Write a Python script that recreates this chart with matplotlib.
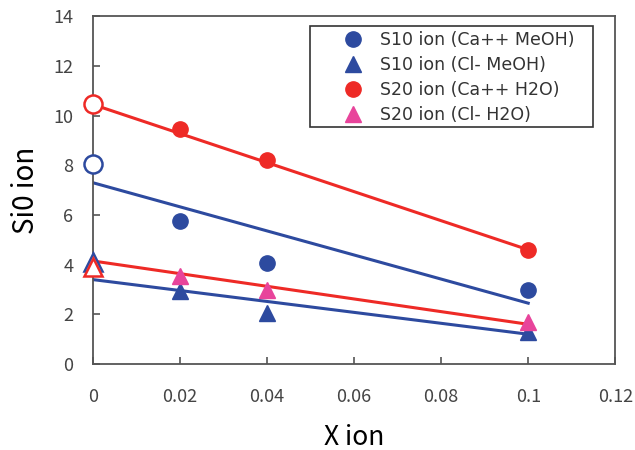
import numpy as np
import matplotlib.pyplot as plt
from matplotlib.patches import Rectangle

plt.rcParams['font.family'] = ['Noto Sans CJK JP', 'DejaVu Sans']

# measured points (x ion, Si0 ion)
x_meas = [0.02, 0.04, 0.1]
s10_ca_meoh = [5.75, 4.06, 3.0]
s10_cl_meoh = [2.95, 2.05, 1.3]
s20_ca_h2o = [9.45, 8.2, 4.6]
s20_cl_h2o = [3.55, 3.0, 1.7]

# values at x = 0 (open symbols)
x0 = [0.0]
s10_ca_meoh_0 = [8.05]
s10_cl_meoh_0 = [4.1]
s20_ca_h2o_0 = [10.45]
s20_cl_h2o_0 = [3.9]

# fit lines, evaluated at both ends
x_fit = [0.0, 0.1]
fit_s10_ca = [7.3, 2.45]
fit_s10_cl = [3.4, 1.2]
fit_s20_ca = [10.45, 4.6]
fit_s20_cl = [4.15, 1.6]

xticks = [0, 0.02, 0.04, 0.06, 0.08, 0.1, 0.12]
xticklabels = ['0', '0.02', '0.04', '0.06', '0.08', '0.1', '0.12']
yticks = [0, 2, 4, 6, 8, 10, 12, 14]

blue = '#2d4a9f'
red = '#ee2a26'
pink = '#e8449b'

fig = plt.figure(figsize=(6.35, 4.5), dpi=100)
ax = fig.add_axes([0.146, 0.191, 0.823, 0.773])

ax.plot(x_fit, fit_s20_ca, color=red, lw=2.2, zorder=2)
ax.plot(x_fit, fit_s10_ca, color=blue, lw=2.2, zorder=2)
ax.plot(x_fit, fit_s20_cl, color=red, lw=2.2, zorder=2)
ax.plot(x_fit, fit_s10_cl, color=blue, lw=2.2, zorder=2)

ax.plot(x_meas, s10_ca_meoh, 'o', color=blue, ms=11, mec=blue, zorder=3,
        label='S10 ion (Ca++ MeOH)')
ax.plot(x_meas, s10_cl_meoh, '^', color=blue, ms=12, mec=blue, zorder=3,
        label='S10 ion (Cl- MeOH)')
ax.plot(x_meas, s20_ca_h2o, 'o', color=red, ms=11, mec=red, zorder=3,
        label='S20 ion (Ca++ H2O)')
ax.plot(x_meas, s20_cl_h2o, '^', color=pink, ms=12, mec=pink, zorder=4,
        label='S20 ion (Cl- H2O)')

# open symbols on the y axis
ax.plot(x0, s10_ca_meoh_0, 'o', mfc='white', mec=blue, mew=1.8, ms=13, clip_on=False, zorder=5)
ax.plot(x0, s20_ca_h2o_0, 'o', mfc='white', mec=red, mew=1.8, ms=13, clip_on=False, zorder=5)
ax.plot(x0, s10_cl_meoh_0, '^', mfc='white', mec=blue, mew=1.8, ms=13, clip_on=False, zorder=5)
ax.plot(x0, s20_cl_h2o_0, '^', mfc='white', mec=red, mew=1.8, ms=13, clip_on=False, zorder=6)

ax.set_xlim(0, 0.12)
ax.set_ylim(0, 14)
ax.set_xticks(xticks)
ax.set_xticklabels(xticklabels)
ax.set_yticks(yticks)

for s in ax.spines.values():
    s.set_color('#555555')
    s.set_linewidth(1.3)

ax.tick_params(direction='in', length=5, width=1.2, color='#555555',
               labelsize=13, labelcolor='#444444')
ax.tick_params(axis='x', pad=17)
ax.tick_params(axis='y', pad=14)

ax.set_xlabel('X ion', fontsize=19, labelpad=13)
ax.set_ylabel('Si0 ion', fontsize=20, labelpad=9)

# legend box: wider left/right margins than a plain legend frame gives
ax.add_patch(Rectangle((0.4157, 0.681), 0.5423, 0.29, transform=ax.transAxes,
                       fill=True, facecolor='white', edgecolor='#333333',
                       lw=1.2, zorder=7))
leg = ax.legend(loc='upper left', bbox_to_anchor=(0.454, 0.957),
                prop={'family': 'DejaVu Sans', 'size': 12.5},
                frameon=False, handlelength=2.65, handletextpad=0.23,
                borderpad=0, labelspacing=0.4, borderaxespad=0)
leg.set_zorder(8)
for t in leg.get_texts():
    t.set_color('#333333')

fig.savefig('out.png', dpi=100)
